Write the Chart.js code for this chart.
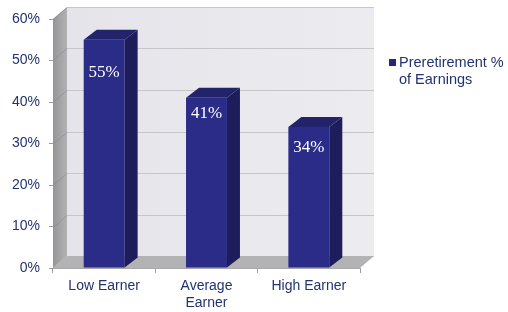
<!DOCTYPE html>
<html>
<head>
<meta charset="utf-8">
<script src="https://cdn.jsdelivr.net/npm/chart.js@4.4.0/dist/chart.umd.min.js"></script>
<style>
  html, body { margin: 0; padding: 0; background: #fff; }
  #wrap { width: 508px; height: 312px; }
</style>
</head>
<body>
<div id="wrap"><canvas id="retireChart"></canvas></div>
<script>
const categories = [['Low Earner'], ['Average', 'Earner'], ['High Earner']];
const seriesName = ['Preretirement %', 'of Earnings'];
const replacementRate = [55, 41, 34];
const yTicks = [0, 10, 20, 30, 40, 50, 60];

const navy = '#22336f';
const DX = 14, DY = -12;      // depth of the walls
const BDX = 13, BDY = -10;    // depth of the bars
const labelDrop = [33, 16, 21];

const threeD = {
  id: 'threeD',
  beforeDatasetsDraw(chart) {
    const { ctx, chartArea: a, scales: { y } } = chart;
    ctx.save();
    // back wall
    const g = ctx.createLinearGradient(a.left + DX, 0, a.right + DX, 0);
    g.addColorStop(0, '#e4e4ea');
    g.addColorStop(1, '#ececf0');
    ctx.fillStyle = g;
    ctx.fillRect(a.left + DX, a.top + DY, a.right - a.left, a.bottom - a.top);
    // left wall
    const lg = ctx.createLinearGradient(a.left, 0, a.left + DX, 0);
    lg.addColorStop(0, '#959597');
    lg.addColorStop(1, '#b2b2b4');
    ctx.fillStyle = lg;
    ctx.beginPath();
    ctx.moveTo(a.left, a.top);
    ctx.lineTo(a.left + DX, a.top + DY);
    ctx.lineTo(a.left + DX, a.bottom + DY);
    ctx.lineTo(a.left, a.bottom);
    ctx.closePath();
    ctx.fill();
    // grid lines on back and side walls
    ctx.lineWidth = 1;
    yTicks.forEach(v => {
      const py = Math.round(y.getPixelForValue(v)) + 0.5;
      ctx.strokeStyle = '#c6c6c8';
      ctx.beginPath();
      ctx.moveTo(a.left + DX, py + DY);
      ctx.lineTo(a.right + DX, py + DY);
      ctx.stroke();
      ctx.strokeStyle = 'rgba(130,130,132,0.5)';
      ctx.beginPath();
      ctx.moveTo(a.left, py);
      ctx.lineTo(a.left + DX, py + DY);
      ctx.stroke();
    });
    // floor
    ctx.fillStyle = '#b3b3b5';
    ctx.beginPath();
    ctx.moveTo(a.left, a.bottom);
    ctx.lineTo(a.right, a.bottom);
    ctx.lineTo(a.right + DX, a.bottom + DY);
    ctx.lineTo(a.left + DX, a.bottom + DY);
    ctx.closePath();
    ctx.fill();
    ctx.restore();
  },
  afterDatasetsDraw(chart) {
    const { ctx } = chart;
    const meta = chart.getDatasetMeta(0);
    ctx.save();
    meta.data.forEach((bar, i) => {
      const l = bar.x - bar.width / 2, r = bar.x + bar.width / 2;
      const t = bar.y, b = bar.base;
      // side
      ctx.fillStyle = '#1d1d5c';
      ctx.beginPath();
      ctx.moveTo(r, t);
      ctx.lineTo(r + BDX, t + BDY);
      ctx.lineTo(r + BDX, b + BDY);
      ctx.lineTo(r, b);
      ctx.closePath();
      ctx.fill();
      // top
      ctx.fillStyle = '#23236b';
      ctx.beginPath();
      ctx.moveTo(l, t);
      ctx.lineTo(l + BDX, t + BDY);
      ctx.lineTo(r + BDX, t + BDY);
      ctx.lineTo(r, t);
      ctx.closePath();
      ctx.fill();
      // value label
      ctx.fillStyle = '#ffffff';
      ctx.font = '17px "Liberation Serif", "Times New Roman", serif';
      ctx.textAlign = 'center';
      ctx.textBaseline = 'middle';
      ctx.fillText(replacementRate[i] + '%', bar.x, t + labelDrop[i]);
    });
    ctx.restore();
  },
  afterDraw(chart) {
    const { ctx } = chart;
    ctx.save();
    ctx.fillStyle = '#26267a';
    ctx.fillRect(389, 59, 7, 7);
    ctx.fillStyle = navy;
    ctx.font = '14.5px "Liberation Sans", Arial, sans-serif';
    ctx.textBaseline = 'middle';
    ctx.textAlign = 'left';
    ctx.fillText(seriesName[0], 399, 63);
    ctx.fillText(seriesName[1], 399, 80);
    ctx.restore();
  }
};

new Chart(document.getElementById('retireChart'), {
  type: 'bar',
  data: {
    labels: categories,
    datasets: [{
      label: seriesName.join(' '),
      data: replacementRate,
      backgroundColor: '#2b2b88',
      borderWidth: 0,
      categoryPercentage: 1,
      barPercentage: 0.4
    }]
  },
  options: {
    responsive: true,
    maintainAspectRatio: false,
    animation: false,
    layout: { padding: { top: 19, right: 148, bottom: 0, left: 0 } },
    scales: {
      y: {
        min: 0,
        max: 60,
        afterFit: s => { s.width = 53; },
        afterBuildTicks: s => { s.ticks = yTicks.map(v => ({ value: v })); },
        border: { color: '#9c9c9e' },
        grid: { drawOnChartArea: false, tickLength: 4, color: '#9c9c9e' },
        ticks: {
          padding: 9,
          color: navy,
          font: { family: '"Liberation Sans", Arial, sans-serif', size: 14 },
          callback: v => v + '%'
        }
      },
      x: {
        afterFit: s => { s.height = 44; },
        border: { color: '#a8a8aa' },
        grid: { drawOnChartArea: false, tickLength: 5, color: '#9c9c9e', offset: true },
        ticks: {
          padding: 5,
          color: navy,
          font: { family: '"Liberation Sans", Arial, sans-serif', size: 14, lineHeight: 1.2 }
        }
      }
    },
    plugins: {
      legend: { display: false },
      tooltip: { enabled: false }
    }
  },
  plugins: [threeD]
});
</script>
</body>
</html>
